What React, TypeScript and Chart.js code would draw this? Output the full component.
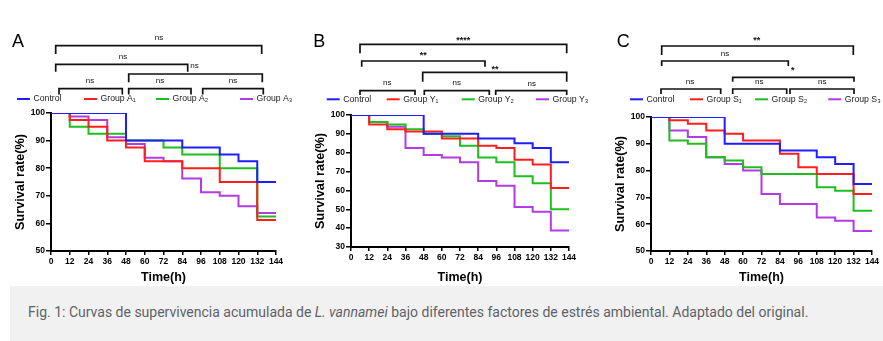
import React, { useEffect, useRef } from 'react';
import { Chart, registerables } from 'chart.js';

Chart.register(...registerables);

// ---------- DATA ----------
const times = [0, 12, 24, 36, 48, 60, 72, 84, 96, 108, 120, 132, 144];
const xTickStep = 12;

const labelsA = ['Control', 'Group A₁', 'Group A₂', 'Group A₃'];
const controlA = [100, 100, 100, 100, 90, 90, 90, 87.5, 87.5, 85, 82.5, 75, 75];
const groupA1 = [100, 97.5, 95, 90, 87.5, 82.5, 82.5, 80, 80, 75, 75, 61.25, 61.25];
const groupA2 = [100, 95, 92.5, 92.5, 90, 90, 87.5, 85, 85, 80, 80, 62.5, 62.5];
const groupA3 = [100, 98.75, 97.5, 91.25, 88.75, 83.75, 82.5, 76.25, 71.25, 70, 66.25, 63.75, 63.75];
const yRangeA = [50, 100];

const labelsB = ['Control', 'Group Y₁', 'Group Y₂', 'Group Y₃'];
const controlB = [100, 100, 100, 100, 90, 90, 90, 87.5, 87.5, 85, 82.5, 75, 75];
const groupY1 = [100, 95, 92.5, 91.25, 91.25, 87.5, 87.5, 83.75, 82.5, 76.25, 73.75, 61.25, 61.25];
const groupY2 = [100, 96.25, 95, 92.5, 90, 88.75, 83.75, 77.5, 75, 67.5, 63.75, 50, 50];
const groupY3 = [100, 96.25, 93.75, 82.5, 78.75, 77.5, 75, 65, 62.5, 51.25, 48.75, 38.75, 38.75];
const yRangeB = [30, 100];

const labelsC = ['Control', 'Group S₁', 'Group S₂', 'Group S₃'];
const controlC = [100, 100, 100, 100, 90, 90, 90, 87.5, 87.5, 85, 82.5, 75, 75];
const groupS1 = [100, 98.75, 97.5, 95, 93.75, 91.25, 91.25, 86.25, 81.25, 78.75, 78.75, 71.25, 71.25];
const groupS2 = [100, 91.25, 90, 85, 83.75, 81.25, 78.75, 78.75, 78.75, 73.75, 72.5, 65, 65];
const groupS3 = [100, 95, 92.5, 85, 82.5, 80, 71.25, 67.5, 67.5, 62.5, 61.25, 57.5, 57.5];
const yRangeC = [50, 100];
const yTickStep = 10;

// significance labels (top bracket, mid-left, mid-right, bottom three)
const sigA = ['ns', 'ns', 'ns', 'ns', 'ns', 'ns'];
const sigB = ['****', '**', '**', 'ns', 'ns', 'ns'];
const sigC = ['**', 'ns', '*', 'ns', 'ns', 'ns'];

// ---------- STYLE / LAYOUT ----------
const COLORS = ['#1e1eff', '#ff1e1e', '#1ebe1e', '#b23be6'];
const FONT = 'Arial, "Liberation Sans", Helvetica, sans-serif';

// bracket geometry in page px: [x1, x2, y, yEnd, labelX, labelY]
const bracketGeoA = [
  [55.7, 261.7, 45.7, 54, 159, 38],
  [55.7, 187.7, 64.3, 71.7, 123, 56.7],
  [128.7, 262.3, 74, 82.3, 194.5, 65.7],
  [59, 122.3, 88.7, 94.5, 90, 81],
  [128.7, 191, 88.7, 94.5, 160, 81],
  [202.7, 263.3, 88.7, 94.5, 233, 81],
];
const bracketGeoB = [
  [360, 566.7, 44.3, 53.3, 463.3, 38.3],
  [361.7, 485, 61, 66.7, 423.3, 53.3],
  [422.7, 566.7, 72.3, 81.7, 495, 66.7],
  [360, 415, 90.7, 95, 387.3, 82.7],
  [424.3, 489.3, 90.7, 95, 456.7, 82.7],
  [495.7, 566.7, 90.7, 95, 531.7, 83.5],
];
const bracketGeoC = [
  [661.7, 853.3, 46, 55, 756.7, 38.3],
  [661.7, 788.3, 61, 66, 725, 53.3],
  [732.7, 854, 77.3, 81.7, 792.7, 68.3],
  [661, 720.7, 89, 94, 690, 81.7],
  [732.7, 786.7, 89, 94, 759.3, 81.7],
  [790, 854, 89, 94, 822.3, 81.7],
];

const panels = [
  {
    key: 'A', left: 0, width: 300, letterX: 12, letterY: 46.5,
    labels: labelsA, series: [controlA, groupA1, groupA2, groupA3], yRange: yRangeA,
    sig: sigA, geo: bracketGeoA, legendX: [17, 84, 156, 240], legendY: 99,
    pad: { left: 13, right: 24, top: 113, bottom: 1 }, xAxisH: 34,
  },
  {
    key: 'B', left: 300, width: 290, letterX: 313.3, letterY: 47,
    labels: labelsB, series: [controlB, groupY1, groupY2, groupY3], yRange: yRangeB,
    sig: sigB, geo: bracketGeoB, legendX: [326.7, 386.7, 461.7, 536], legendY: 99.3,
    pad: { left: 13, right: 21, top: 115, bottom: 1 }, xAxisH: 38,
  },
  {
    key: 'C', left: 590, width: 293, letterX: 616.7, letterY: 47,
    labels: labelsC, series: [controlC, groupS1, groupS2, groupS3], yRange: yRangeC,
    sig: sigC, geo: bracketGeoC, legendX: [630, 690, 755, 828.3], legendY: 99.3,
    pad: { left: 23, right: 11, top: 117, bottom: 1 }, xAxisH: 34,
  },
];

const CANVAS_H = 286;
const Y_AXIS_W = 38;

if (typeof document !== 'undefined') {
  document.body.style.margin = '0';
}

const annotPlugin = {
  id: 'annot',
  afterDraw(chart: any, _args: any, opts: any) {
    const ctx = chart.ctx;
    const ox = opts.offsetX;
    ctx.save();
    ctx.fillStyle = '#000';
    ctx.font = `18px ${FONT}`;
    ctx.textAlign = 'left';
    ctx.textBaseline = 'alphabetic';
    ctx.fillText(opts.letter, opts.letterX - ox, opts.letterY);

    // brackets
    ctx.strokeStyle = '#111';
    ctx.lineWidth = 1.7;
    opts.geo.forEach((g: number[], i: number) => {
      const [x1, x2, y, yEnd, lx, ly] = g;
      ctx.beginPath();
      ctx.moveTo(x1 - ox, yEnd);
      ctx.lineTo(x1 - ox, y);
      ctx.lineTo(x2 - ox, y);
      ctx.lineTo(x2 - ox, yEnd);
      ctx.stroke();
      const label = opts.sig[i];
      const isStar = label.indexOf('*') >= 0;
      ctx.font = isStar ? `bold 9px ${FONT}` : `8px ${FONT}`;
      ctx.textAlign = 'center';
      ctx.textBaseline = 'middle';
      ctx.fillStyle = '#111';
      ctx.fillText(label, lx - ox, ly + (isStar ? 2.5 : 0));
    });

    // legend
    chart.data.datasets.forEach((ds: any, i: number) => {
      const x = opts.legendX[i] - ox;
      const y = opts.legendY;
      ctx.strokeStyle = ds.borderColor;
      ctx.lineWidth = 2;
      ctx.beginPath();
      ctx.moveTo(x, y);
      ctx.lineTo(x + 13, y);
      ctx.stroke();
      ctx.fillStyle = '#222';
      ctx.font = `8.7px ${FONT}`;
      ctx.textAlign = 'left';
      ctx.textBaseline = 'middle';
      ctx.fillText(ds.label, x + 16.5, y);
    });
    ctx.restore();
  },
};

function Panel({ p }: { p: any }) {
  const ref = useRef<HTMLCanvasElement>(null);
  useEffect(() => {
    if (!ref.current) return;
    const datasets = p.labels.map((lab: string, i: number) => ({
      label: lab,
      data: times.map((t, k) => ({ x: t, y: p.series[i][k] })),
      borderColor: COLORS[i],
      backgroundColor: COLORS[i],
      borderWidth: 2,
      pointRadius: 0,
      stepped: 'before',
      fill: false,
    }));
    const chart = new Chart(ref.current, {
      type: 'line',
      data: { datasets },
      plugins: [annotPlugin],
      options: {
        animation: false,
        responsive: false,
        maintainAspectRatio: false,
        devicePixelRatio: 1,
        layout: { padding: p.pad },
        plugins: {
          legend: { display: false },
          tooltip: { enabled: false },
          annot: {
            offsetX: p.left, letter: p.key, letterX: p.letterX, letterY: p.letterY,
            geo: p.geo, sig: p.sig, legendX: p.legendX, legendY: p.legendY,
          },
        } as any,
        scales: {
          x: {
            type: 'linear',
            min: times[0],
            max: times[times.length - 1],
            afterFit: (s: any) => { s.height = p.xAxisH; },
            ticks: {
              stepSize: xTickStep, autoSkip: false, maxRotation: 0, padding: 2,
              color: '#000', font: { family: FONT, size: 8.5, weight: 'bold' },
            },
            grid: { display: true, drawOnChartArea: false, drawTicks: true, tickLength: 4, color: '#000', lineWidth: 1.5 },
            border: { display: true, color: '#000', width: 2 },
            title: {
              display: true, text: 'Time(h)', color: '#000', padding: { top: 0, bottom: 0 },
              font: { family: FONT, size: 12.5, weight: 'bold' },
            },
          },
          y: {
            type: 'linear',
            min: p.yRange[0],
            max: p.yRange[1],
            afterFit: (s: any) => { s.width = Y_AXIS_W; },
            ticks: {
              stepSize: yTickStep, padding: 1, color: '#000',
              font: { family: FONT, size: 8.5, weight: 'bold' },
            },
            grid: { display: true, drawOnChartArea: false, drawTicks: true, tickLength: 5, color: '#000', lineWidth: 1.5 },
            border: { display: true, color: '#000', width: 2 },
            title: {
              display: true, text: 'Survival rate(%)', color: '#000', padding: { top: 0, bottom: 0 },
              font: { family: FONT, size: 12.7, weight: 'bold' },
            },
          },
        },
      } as any,
    });
    return () => chart.destroy();
  }, [p]);
  return (
    <div style={{ position: 'absolute', left: p.left, top: 0, width: p.width, height: CANVAS_H }}>
      <canvas ref={ref} width={p.width} height={CANVAS_H} style={{ display: 'block', width: p.width, height: CANVAS_H }} />
    </div>
  );
}

export default function App() {
  return (
    <div style={{ position: 'relative', width: 883, height: 341, background: '#fff' }}>
      {panels.map((p) => <Panel key={p.key} p={p} />)}
      <div
        style={{
          position: 'absolute', left: 10, top: 286, width: 873, height: 55,
          background: '#f1f1f1', boxSizing: 'border-box', paddingLeft: 18, paddingTop: 17,
          fontFamily: 'Roboto, "Noto Sans", sans-serif', fontSize: 14, lineHeight: '18px', color: '#5f6368',
          whiteSpace: 'nowrap', overflow: 'hidden',
        }}
      >
        Fig. 1: Curvas de supervivencia acumulada de <i>L. vannamei</i> bajo diferentes factores de estrés ambiental. Adaptado del original.
      </div>
    </div>
  );
}
